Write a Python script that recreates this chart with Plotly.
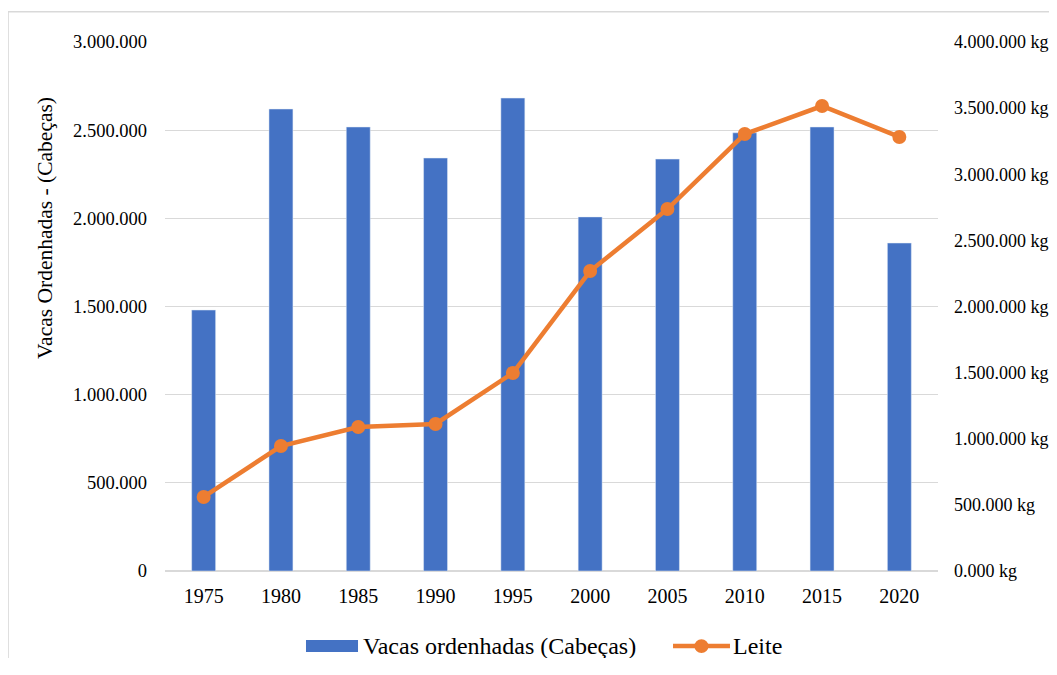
import plotly.graph_objects as go

# dados
anos = ['1975', '1980', '1985', '1990', '1995', '2000', '2005', '2010', '2015', '2020']
vacas = [1480000, 2620000, 2518000, 2342000, 2682000, 2008000, 2336000, 2485000, 2518000, 1860000]
leite = [560000, 945000, 1089000, 1112000, 1497000, 2268000, 2737000, 3304000, 3516000, 3282000]

# ticks
esq_vals = [0, 500000, 1000000, 1500000, 2000000, 2500000, 3000000]
esq_text = ['0', '500.000', '1.000.000', '1.500.000', '2.000.000', '2.500.000', '3.000.000']
dir_vals = [0, 500000, 1000000, 1500000, 2000000, 2500000, 3000000, 3500000, 4000000]
dir_text = ['0.000 kg', '500.000 kg', '1.000.000 kg', '1.500.000 kg', '2.000.000 kg',
            '2.500.000 kg', '3.000.000 kg', '3.500.000 kg', '4.000.000 kg']

nome_barras = 'Vacas ordenhadas (Cabeças)'
nome_linha = 'Leite'
titulo_y = 'Vacas Ordenhadas - (Cabeças)'

azul = '#4472C4'
laranja = '#ED7D31'

fig = go.Figure()

fig.add_trace(go.Bar(
    name=nome_barras,
    x=anos,
    y=vacas,
    marker=dict(color=azul),
    yaxis='y'))

fig.add_trace(go.Scatter(
    name=nome_linha,
    x=anos,
    y=leite,
    mode='lines+markers',
    line=dict(color=laranja, width=4.5),
    marker=dict(color=laranja, size=14),
    yaxis='y2'))

# o body da pagina tem margem de 8px, por isso a figura fica menor
fig.update_layout(
    width=1041,
    height=650,
    margin=dict(l=157, r=111, t=34, b=87),
    paper_bgcolor='white',
    plot_bgcolor='white',
    font=dict(family='Liberation Serif', size=18.5, color='#000000'),
    bargap=0.69,
    showlegend=False,
    xaxis=dict(
        type='category',
        range=[-0.5, 9.5],
        automargin=False,
        showgrid=False,
        showline=False,
        ticks='',
        tickfont=dict(size=20),
        ticklabelstandoff=11),
    yaxis=dict(
        range=[0, 3000000],
        automargin=False,
        tickvals=esq_vals,
        ticktext=esq_text,
        showgrid=True,
        gridcolor='#d9d9d9',
        gridwidth=1.3,
        zeroline=True,
        zerolinecolor='#d9d9d9',
        zerolinewidth=1.5,
        ticks='',
        ticklabelstandoff=17),
    yaxis2=dict(
        range=[0, 4000000],
        automargin=False,
        overlaying='y',
        side='right',
        tickvals=dir_vals,
        ticktext=dir_text,
        tickfont=dict(size=18),
        showgrid=False,
        zeroline=False,
        ticks='',
        ticklabelstandoff=15),
)

# titulo do eixo esquerdo (no original nao esta centrado no eixo)
fig.add_annotation(text=titulo_y, xref='paper', yref='paper',
                   x=-0.1552, y=0.6484, xanchor='center', yanchor='middle',
                   textangle=-90, showarrow=False, font=dict(size=21.5))

# borda da area do grafico
fig.add_shape(type='rect', xref='paper', yref='paper',
              x0=-0.203, x1=1.3, y0=-0.4, y1=1.057,
              line=dict(color='#d9d9d9', width=1.5), layer='below')

# legenda desenhada a mao (simbolos largos como no Excel)
ly = -0.142
fig.add_shape(type='rect', xref='paper', yref='paper',
              x0=0.1824, x1=0.2497, y0=-0.1531, y1=-0.1304,
              fillcolor=azul, line=dict(width=0))
fig.add_annotation(text=nome_barras, xref='paper', yref='paper',
                   x=0.2535, y=ly, xanchor='left', yanchor='middle',
                   showarrow=False, font=dict(size=24))
fig.add_shape(type='line', xref='paper', yref='paper',
              x0=0.6572, x1=0.7309, y0=ly, y1=ly,
              line=dict(color=laranja, width=4.5))
fig.add_shape(type='circle', xref='paper', yref='paper',
              x0=0.694 - 0.0091, x1=0.694 + 0.0091,
              y0=ly - 0.0132, y1=ly + 0.0132,
              fillcolor=laranja, line=dict(width=0))
fig.add_annotation(text=nome_linha, xref='paper', yref='paper',
                   x=0.7322, y=ly, xanchor='left', yanchor='middle',
                   showarrow=False, font=dict(size=24))

fig.write_html("out.html")
